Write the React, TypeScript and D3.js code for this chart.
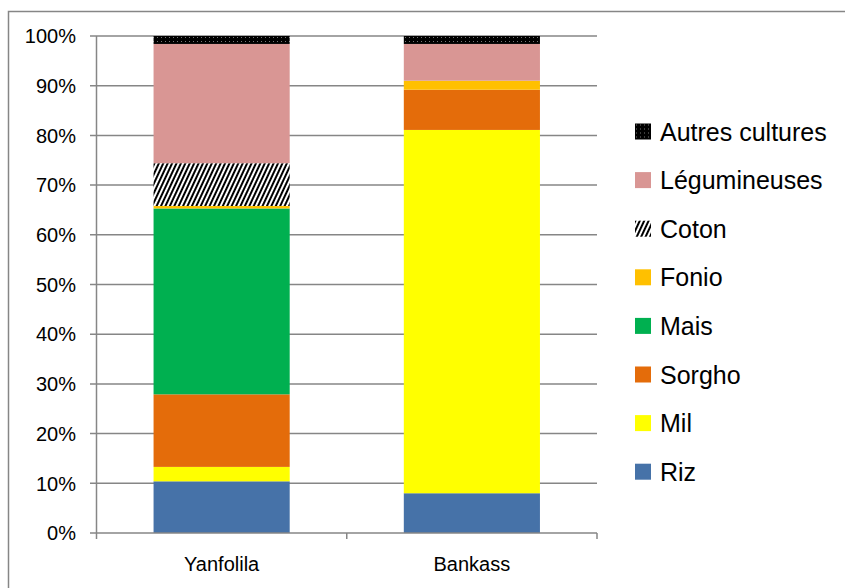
import { useRef, useEffect } from 'react';
import * as d3 from 'd3';

// Zones and crop shares (% of cultivated area), bottom to top
const zones = ['Yanfolila', 'Bankass'];
const crops = ['Riz', 'Mil', 'Sorgho', 'Mais', 'Fonio', 'Coton', 'Légumineuses', 'Autres cultures'];
const yanfolila = [10.4, 2.9, 14.6, 37.4, 0.5, 8.6, 24.0, 1.6];
const bankass = [8.0, 73.1, 8.1, 0, 1.8, 0, 7.4, 1.6];
const yTicks = [0, 10, 20, 30, 40, 50, 60, 70, 80, 90, 100];

const cropFill: Record<string, string> = {
  'Riz': '#4672A8',
  'Mil': '#FFFF00',
  'Sorgho': '#E46C0A',
  'Mais': '#00B050',
  'Fonio': '#FFC000',
  'Coton': 'url(#hatch-coton)',
  'Légumineuses': '#D99694',
  'Autres cultures': 'url(#dots-autres)',
};

const W = 845;
const H = 588;
const FONT = '"Liberation Sans", Arial, sans-serif';

export default function App() {
  const svgRef = useRef<SVGSVGElement>(null);

  useEffect(() => {
    if (!svgRef.current) return;
    const svg = d3.select(svgRef.current);
    svg.selectAll('*').remove();

    // patterns
    const defs = svg.append('defs');
    const hatch = defs.append('pattern')
      .attr('id', 'hatch-coton')
      .attr('patternUnits', 'userSpaceOnUse')
      .attr('width', 4)
      .attr('height', 4)
      .attr('patternTransform', 'rotate(25)');
    hatch.append('rect').attr('width', 4).attr('height', 4).attr('fill', '#fff');
    hatch.append('rect').attr('width', 2).attr('height', 4).attr('fill', '#000');

    const dots = defs.append('pattern')
      .attr('id', 'dots-autres')
      .attr('patternUnits', 'userSpaceOnUse')
      .attr('width', 4)
      .attr('height', 4);
    dots.append('rect').attr('width', 4).attr('height', 4).attr('fill', '#000');
    dots.append('rect').attr('x', 1).attr('y', 1).attr('width', 1).attr('height', 1).attr('fill', '#777');

    // chart border
    svg.append('rect')
      .attr('x', 8.5).attr('y', 11.5)
      .attr('width', W).attr('height', H)
      .attr('fill', '#fff')
      .attr('stroke', '#868686')
      .attr('stroke-width', 1.5);

    const x = d3.scaleBand<string>()
      .domain(zones)
      .range([96.5, 597])
      .paddingInner(0.456)
      .paddingOuter(0.228);

    const y = d3.scaleLinear().domain([0, 100]).range([533, 36]);

    // gridlines
    svg.append('g')
      .selectAll('line')
      .data(yTicks.filter(d => d > 0))
      .enter().append('line')
      .attr('x1', 90).attr('x2', 597)
      .attr('y1', d => y(d)).attr('y2', d => y(d))
      .attr('stroke', '#868686')
      .attr('stroke-width', 1.5);

    // stacked bars
    const rows = zones.map((z, i) => {
      const vals = i === 0 ? yanfolila : bankass;
      const row: Record<string, number | string> = { zone: z };
      crops.forEach((c, j) => { row[c] = vals[j]; });
      return row;
    });
    const series = d3.stack<Record<string, number | string>>()
      .keys(crops)
      .value((d, k) => d[k] as number)(rows);

    svg.append('g')
      .selectAll('g')
      .data(series)
      .enter().append('g')
      .attr('fill', d => cropFill[d.key])
      .selectAll('rect')
      .data(d => d)
      .enter().append('rect')
      .attr('x', d => x(d.data.zone as string) as number)
      .attr('width', x.bandwidth())
      .attr('y', d => y(d[1]))
      .attr('height', d => y(d[0]) - y(d[1]));

    // y axis
    svg.append('line')
      .attr('x1', 96.5).attr('x2', 96.5)
      .attr('y1', 36).attr('y2', 533)
      .attr('stroke', '#868686').attr('stroke-width', 1.5);

    svg.append('g')
      .selectAll('text')
      .data(yTicks)
      .enter().append('text')
      .attr('x', 76)
      .attr('y', d => y(d))
      .attr('dy', '0.36em')
      .attr('text-anchor', 'end')
      .attr('font-family', FONT)
      .attr('font-size', 20)
      .attr('fill', '#000')
      .text(d => `${d}%`);

    // x axis
    svg.append('line')
      .attr('x1', 90).attr('x2', 597)
      .attr('y1', 533).attr('y2', 533)
      .attr('stroke', '#868686').attr('stroke-width', 1.5);

    const step = x.step();
    const xTickPos = [96.5, 96.5 + step, 96.5 + 2 * step];
    svg.append('g')
      .selectAll('line')
      .data(xTickPos)
      .enter().append('line')
      .attr('x1', d => d).attr('x2', d => d)
      .attr('y1', 533).attr('y2', 539)
      .attr('stroke', '#868686').attr('stroke-width', 1.5);

    svg.append('g')
      .selectAll('text')
      .data(zones)
      .enter().append('text')
      .attr('x', d => (x(d) as number) + x.bandwidth() / 2)
      .attr('y', 571)
      .attr('text-anchor', 'middle')
      .attr('font-family', FONT)
      .attr('font-size', 20)
      .attr('fill', '#000')
      .text(d => d);

    // legend, top entry is the top of the stack
    const legendItems = crops.slice().reverse();
    const legend = svg.append('g')
      .selectAll('g')
      .data(legendItems)
      .enter().append('g')
      .attr('transform', (_, i) => `translate(635,${131.5 + i * 48.6})`);

    legend.append('rect')
      .attr('x', 0).attr('y', -8)
      .attr('width', 16).attr('height', 16)
      .attr('fill', d => cropFill[d]);

    legend.append('text')
      .attr('x', 25)
      .attr('y', 0)
      .attr('dy', '0.36em')
      .attr('font-family', FONT)
      .attr('font-size', 25)
      .attr('fill', '#000')
      .text(d => d);
  }, []);

  return (
    <div style={{ position: 'absolute', left: 0, top: 0 }}>
      <svg ref={svgRef} width={W} height={H} style={{ display: 'block' }} />
    </div>
  );
}
